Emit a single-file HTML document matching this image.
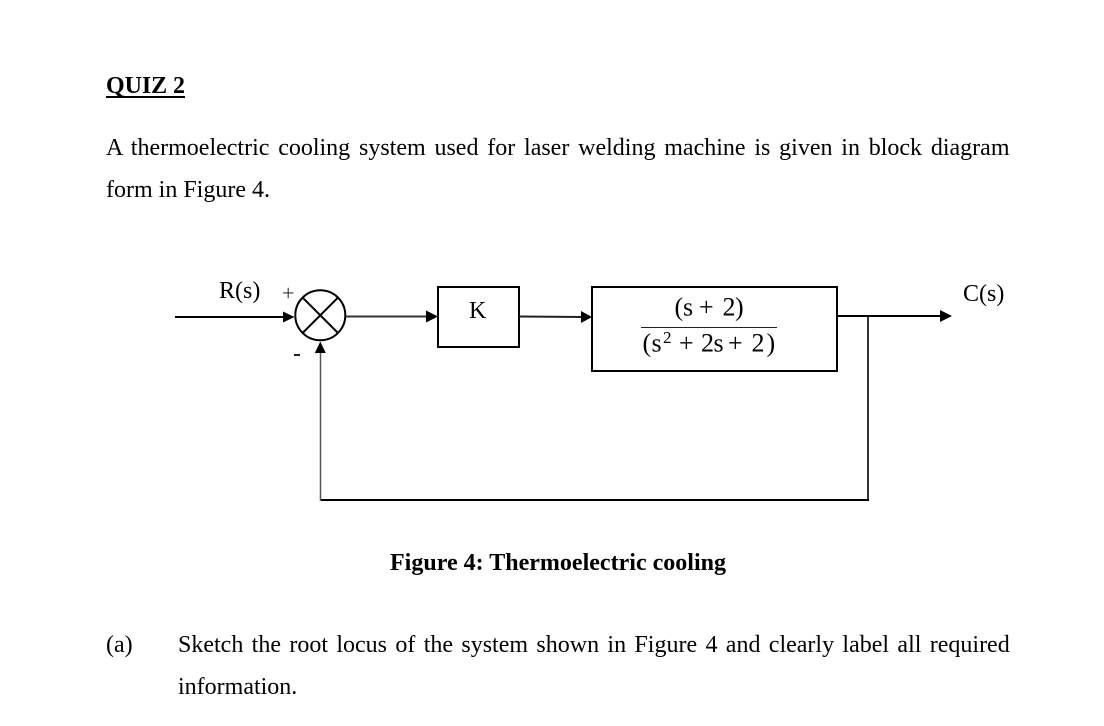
<!DOCTYPE html>
<html>
<head>
<meta charset="utf-8">
<style>
html,body{margin:0;padding:0;background:#fff;width:1104px;height:726px;overflow:hidden}
svg{display:block}
text{font-family:"Liberation Serif",serif;fill:#000;font-size:24px}
.m{font-size:26px}
</style>
</head>
<body>
<svg width="1104" height="726" viewBox="0 0 1104 726" xmlns="http://www.w3.org/2000/svg">
<text x="106" y="93" font-weight="bold" textLength="79" lengthAdjust="spacing">QUIZ 2</text>
<rect x="106" y="96" width="79" height="2" fill="#000"/>
<text x="106" y="155" style="word-spacing:2.800px">A thermoelectric cooling system used for laser welding machine is given in block diagram</text>
<text x="106" y="197">form in Figure 4.</text>

<text x="219" y="298">R(s)</text>
<text x="282" y="300.500" style="font-size:22px;fill:#333">+</text>
<rect x="294" y="354" width="6" height="2" fill="#222"/>

<line x1="175" y1="317" x2="286" y2="317" stroke="#000" stroke-width="2"/>
<polygon points="283,311.500 294.500,317 283,322.500" fill="#000"/>
<circle cx="320.300" cy="315.300" r="25" fill="#fff" stroke="#000" stroke-width="2"/>
<line x1="302.600" y1="297.600" x2="338" y2="333" stroke="#000" stroke-width="2"/>
<line x1="338" y1="297.600" x2="302.600" y2="333" stroke="#000" stroke-width="2"/>

<line x1="346" y1="316.500" x2="428" y2="316.500" stroke="#333" stroke-width="2"/>
<polygon points="426,310.500 438,316.500 426,322.500" fill="#000"/>
<rect x="438" y="287" width="81" height="60" fill="#fff" stroke="#000" stroke-width="2"/>
<text x="469" y="318">K</text>

<line x1="519" y1="316.500" x2="584" y2="317" stroke="#222" stroke-width="2"/>
<polygon points="581,311 592,317 581,323" fill="#000"/>
<rect x="592" y="287" width="245" height="84" fill="#fff" stroke="#000" stroke-width="2"/>
<text class="m" x="674.500 683 692 699 712 722.500 735" y="315.500">(s + 2)</text>
<rect x="641" y="327" width="136" height="1" fill="#222"/>
<text class="m" x="642.500 651.500" y="351.500">(s</text>
<text x="663" y="343" style="font-size:17px">2</text>
<text class="m" x="679 693 701 713.500 724 728 745 751.500 766.500" y="351.500">+ 2s + 2)</text>

<line x1="837" y1="316" x2="942" y2="316" stroke="#000" stroke-width="2"/>
<polygon points="940,310 952,316 940,322" fill="#000"/>
<text x="963" y="301">C(s)</text>

<line x1="868" y1="317" x2="868" y2="500" stroke="#333" stroke-width="2"/>
<line x1="320" y1="500" x2="869" y2="500" stroke="#000" stroke-width="2"/>
<line x1="320.500" y1="352" x2="320.500" y2="501" stroke="#555" stroke-width="1.500"/>
<polygon points="320.300,341.500 325.800,353 314.800,353" fill="#000"/>

<text x="390" y="570" font-weight="bold" textLength="336" lengthAdjust="spacing">Figure 4: Thermoelectric cooling</text>

<text x="106" y="652">(a)</text>
<text x="178" y="652" style="word-spacing:2.350px">Sketch the root locus of the system shown in Figure 4 and clearly label all required</text>
<text x="178" y="694">information.</text>
</svg>
</body>
</html>
